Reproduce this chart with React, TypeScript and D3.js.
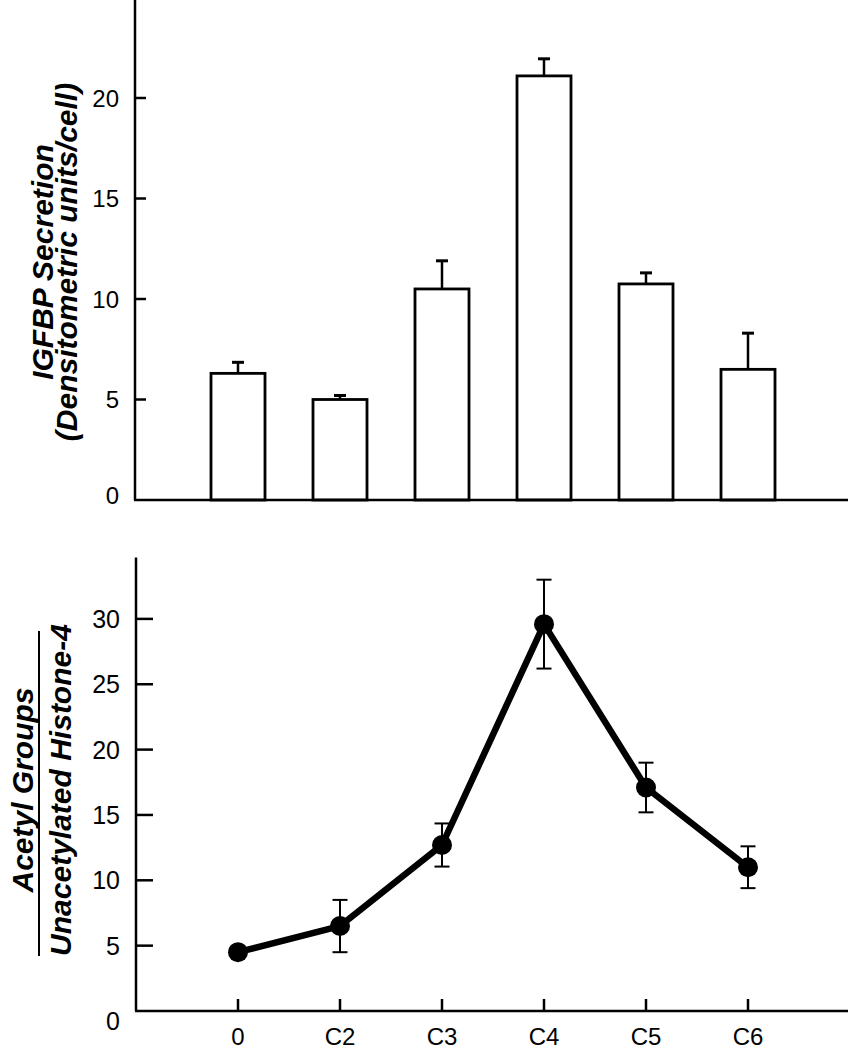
import React from "react";
import * as d3 from "d3";

const categories = ["0", "C2", "C3", "C4", "C5", "C6"];
const igfbpMean = [6.3, 5.0, 10.5, 21.1, 10.75, 6.5];
const igfbpErr = [0.55, 0.2, 1.4, 0.85, 0.55, 1.8];
const acetylMean = [4.5, 6.5, 12.7, 29.6, 17.1, 11.0];
const acetylErr = [0, 2.0, 1.65, 3.4, 1.9, 1.6];
const topTicks = [5, 10, 15, 20];
const topTickLabels = ["0", "5", "10", "15", "20"];
const bottomTicks = [5, 10, 15, 20, 25, 30];
const bottomTickLabels = ["0", "5", "10", "15", "20", "25", "30"];

const W = 848;
const H = 1050;
const FONT = "'Liberation Sans', Arial, Helvetica, sans-serif";

export default function App() {
  const x = d3.scalePoint<string>().domain(categories).range([238, 748]);

  // top panel
  const yTop = d3.scaleLinear().domain([0, 25]).range([500, 500 - 25 * 20.1]);
  const axisXTop = 135;
  const barW = 54;

  // bottom panel
  const yBot = d3.scaleLinear().domain([0, 35]).range([1011, 1011 - 35 * 13.07]);
  const axisXBot = 136;

  const lineGen = d3
    .line<number>()
    .x((_, i) => x(categories[i]) as number)
    .y((d) => yBot(d));

  return (
    <svg
      width={W}
      height={H}
      style={{ position: "absolute", left: 0, top: 0, background: "#fff" }}
      fontFamily={FONT}
    >
      <rect x={0} y={0} width={W} height={H} fill="#fff" />

      {/* ===== TOP PANEL ===== */}
      <g>
        {igfbpMean.map((v, i) => {
          const cx = x(categories[i]) as number;
          return (
            <g key={"bar" + i}>
              <line
                x1={cx}
                x2={cx}
                y1={yTop(v)}
                y2={yTop(v + igfbpErr[i])}
                stroke="#000"
                strokeWidth={2.5}
              />
              <line
                x1={cx - 6}
                x2={cx + 6}
                y1={yTop(v + igfbpErr[i])}
                y2={yTop(v + igfbpErr[i])}
                stroke="#000"
                strokeWidth={3}
              />
              <rect
                x={cx - barW / 2}
                y={yTop(v)}
                width={barW}
                height={yTop(0) - yTop(v)}
                fill="#fff"
                stroke="#000"
                strokeWidth={2.8}
              />
            </g>
          );
        })}
        <line x1={axisXTop} x2={axisXTop} y1={yTop(24.88)} y2={yTop(0)} stroke="#000" strokeWidth={2.5} />
        <line x1={axisXTop - 1} x2={W} y1={yTop(0)} y2={yTop(0)} stroke="#000" strokeWidth={2.5} />
        {topTicks.map((t) => (
          <line key={"tt" + t} x1={axisXTop} x2={axisXTop + 11} y1={yTop(t)} y2={yTop(t)} stroke="#000" strokeWidth={2.5} />
        ))}
        {[0, ...topTicks].map((t, i) => (
          <text
            key={"tl" + t}
            x={119}
            y={yTop(t) + (t === 0 ? -5 : 0)}
            textAnchor="end"
            dominantBaseline="central"
            fontSize={24}
          >
            {topTickLabels[i]}
          </text>
        ))}
        <g transform={`translate(53,262) rotate(-90)`}>
          <text textAnchor="middle" fontSize={30} fontWeight="bold" fontStyle="italic">
            IGFBP Secretion
          </text>
        </g>
        <g transform={`translate(77,262) rotate(-90)`}>
          <text textAnchor="middle" fontSize={30} fontWeight="bold" fontStyle="italic">
            (Densitometric units/cell)
          </text>
        </g>
      </g>

      {/* ===== BOTTOM PANEL ===== */}
      <g>
        <line x1={axisXBot} x2={axisXBot} y1={yBot(34.7)} y2={yBot(0)} stroke="#000" strokeWidth={2.5} />
        <line x1={axisXBot - 1} x2={W} y1={yBot(0)} y2={yBot(0)} stroke="#000" strokeWidth={2.5} />
        {bottomTicks.map((t) => (
          <line key={"bt" + t} x1={axisXBot} x2={axisXBot + 17} y1={yBot(t)} y2={yBot(t)} stroke="#000" strokeWidth={2.5} />
        ))}
        {[0, ...bottomTicks].map((t, i) => (
          <text
            key={"bl" + t}
            x={120}
            y={yBot(t) + (t === 0 ? 10 : 0)}
            textAnchor="end"
            dominantBaseline="central"
            fontSize={25}
          >
            {bottomTickLabels[i]}
          </text>
        ))}
        {categories.map((c) => (
          <g key={"xc" + c}>
            <line
              x1={x(c) as number}
              x2={x(c) as number}
              y1={yBot(0)}
              y2={yBot(0) - 12}
              stroke="#000"
              strokeWidth={2.5}
            />
            <text x={x(c) as number} y={1045} textAnchor="middle" fontSize={24}>
              {c}
            </text>
          </g>
        ))}

        {acetylMean.map((v, i) => {
          const cx = x(categories[i]) as number;
          const e = acetylErr[i];
          if (e <= 0) return null;
          return (
            <g key={"eb" + i} stroke="#000" strokeWidth={2}>
              <line x1={cx} x2={cx} y1={yBot(v - e)} y2={yBot(v + e)} />
              <line x1={cx - 7.5} x2={cx + 7.5} y1={yBot(v + e)} y2={yBot(v + e)} />
              <line x1={cx - 7.5} x2={cx + 7.5} y1={yBot(v - e)} y2={yBot(v - e)} />
            </g>
          );
        })}
        <path
          d={lineGen(acetylMean) || ""}
          fill="none"
          stroke="#000"
          strokeWidth={6.5}
          strokeLinejoin="round"
        />
        {acetylMean.map((v, i) => (
          <circle key={"pt" + i} cx={x(categories[i]) as number} cy={yBot(v)} r={10} fill="#000" />
        ))}

        <g transform={`translate(33,790) rotate(-90)`}>
          <text textAnchor="middle" fontSize={30} fontWeight="bold" fontStyle="italic">
            Acetyl Groups
          </text>
        </g>
        <line x1={39} x2={39} y1={631} y2={956} stroke="#000" strokeWidth={2} />
        <g transform={`translate(71,790) rotate(-90)`}>
          <text textAnchor="middle" fontSize={30} fontWeight="bold" fontStyle="italic">
            Unacetylated Histone-4
          </text>
        </g>
      </g>
    </svg>
  );
}
